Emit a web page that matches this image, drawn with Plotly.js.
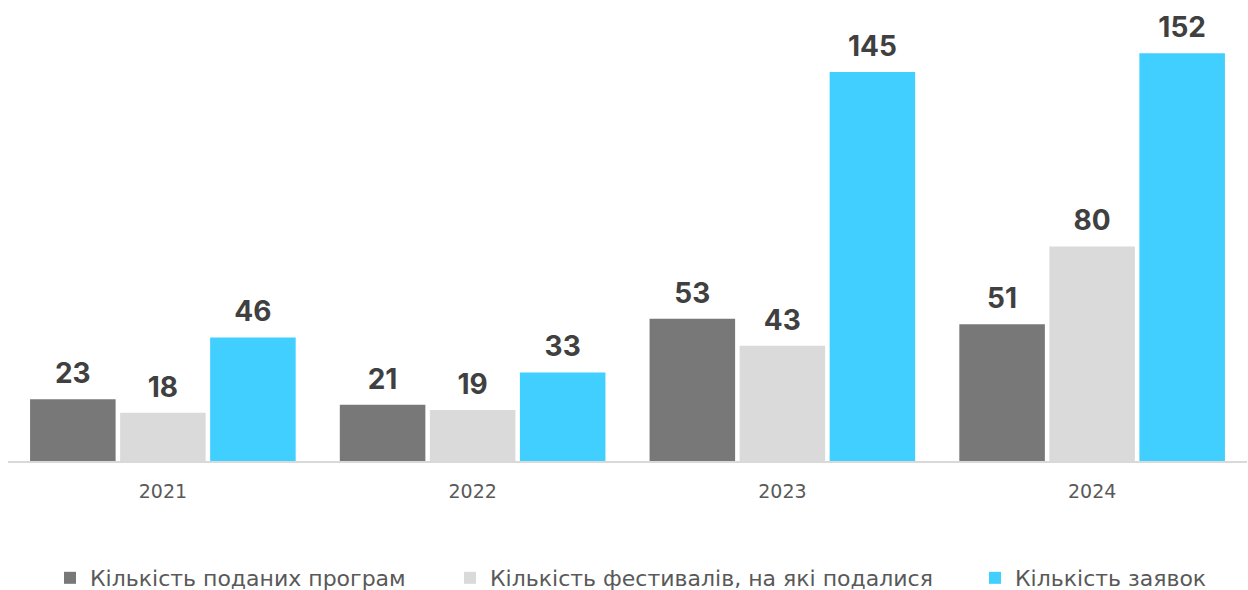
<!DOCTYPE html>
<html><head><meta charset="utf-8">
<script src="https://cdn.plot.ly/plotly-3.0.1.min.js"></script>
<style>html,body{margin:0;padding:0;background:#fff}</style>
</head><body>
<div id="chart" style="width:1248px;height:590px"></div>
<script>
const years = ['2021', '2022', '2023', '2024'];
const programs = [23, 21, 53, 51];
const festivals = [18, 19, 43, 80];
const applications = [46, 33, 145, 152];
const seriesNames = ['Кількість поданих програм', 'Кількість фестивалів, на які подалися', 'Кількість заявок'];
const colors = ['#787878', '#dadada', '#40cfff'];
const legendIds = ['legend', 'legend2', 'legend3'];

const series = [programs, festivals, applications];
const bars = series.map((vals, i) => ({
  type: 'bar', x: years, y: vals, name: seriesNames[i],
  marker: {color: colors[i], line: {width: 0}},
  legend: legendIds[i], hoverinfo: 'skip'
}));
const labels = series.map((vals, i) => ({
  type: 'scatter', mode: 'markers+text', x: years, y: vals,
  text: vals.map(String), textposition: 'top center', cliponaxis: false,
  marker: {size: 13, opacity: 0, color: colors[i]},
  textfont: {family: 'Inter, Roboto, sans-serif', size: 28, color: '#404040', weight: 700},
  showlegend: false, hoverinfo: 'skip'
}));

const legendBase = {orientation: 'h', xref: 'container', yref: 'container', y: 0.0203,
  yanchor: 'middle', xanchor: 'left', bgcolor: 'rgba(0,0,0,0)',
  font: {family: 'DejaVu Sans, sans-serif', size: 22, color: '#595959'}};

const layout = {
  width: 1248, height: 590,
  margin: {l: 8, r: 1, t: 5, b: 129, autoexpand: false},
  paper_bgcolor: '#fff', plot_bgcolor: '#fff',
  barmode: 'group', bargap: 0.128, bargroupgap: 0.05,
  scattermode: 'group', scattergap: 0.128,
  font: {family: 'DejaVu Sans, sans-serif'},
  xaxis: {type: 'category', showline: true, linecolor: '#d9d9d9', linewidth: 2, ticks: '',
    tickfont: {family: 'DejaVu Sans, sans-serif', size: 19, color: '#595959'}, ticklabelstandoff: 12},
  yaxis: {range: [0, 170], visible: false, showgrid: false, zeroline: false},
  legend: Object.assign({}, legendBase, {x: 50 / 1248}),
  legend2: Object.assign({}, legendBase, {x: 450 / 1248}),
  legend3: Object.assign({}, legendBase, {x: 975 / 1248}),
  showlegend: true
};
Plotly.newPlot('chart', bars.concat(labels), layout, {displayModeBar: false, staticPlot: true});
</script>
</body></html>
